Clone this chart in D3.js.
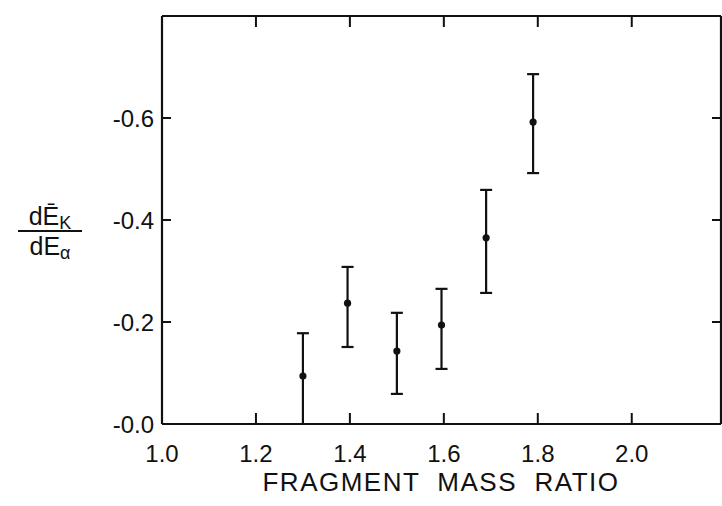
<!DOCTYPE html>
<html>
<head>
<meta charset="utf-8">
<script src="https://cdn.jsdelivr.net/npm/d3@7"></script>
<style>
  html, body { margin: 0; padding: 0; background: #fff; }
  svg { display: block; }
  text { font-family: "Liberation Sans", "DejaVu Sans", sans-serif; fill: #111; }
</style>
</head>
<body>
<svg id="chart" width="722" height="506"></svg>
<script>
// Fragment mass ratio vs. slope of mean kinetic energy with excitation energy
const massRatio = [1.30, 1.395, 1.50, 1.595, 1.69, 1.79];
const slope     = [0.094, 0.237, 0.143, 0.194, 0.365, 0.592];
const errUpper  = [0.178, 0.308, 0.218, 0.265, 0.459, 0.686];
const errLower  = [0.0, 0.151, 0.059, 0.108, 0.257, 0.492];

const xTicks = [1.0, 1.2, 1.4, 1.6, 1.8, 2.0];
const xTickLabels = ["1.0", "1.2", "1.4", "1.6", "1.8", "2.0"];
const yTicks = [0.0, 0.2, 0.4, 0.6];
const yTickLabels = ["-0.0", "-0.2", "-0.4", "-0.6"];

const svg = d3.select("#chart");
const ink = "#111";

const x = d3.scaleLinear().domain([1.0, 2.19]).range([162, 721]);
const y = d3.scaleLinear().domain([0, 0.8]).range([424, 16]);

// frame
const frame = svg.append("g").attr("stroke", ink).attr("stroke-width", 2.2).attr("fill", "none");
frame.append("line").attr("x1", x(1.0)).attr("x2", x(2.19)).attr("y1", y(0)).attr("y2", y(0));
frame.append("line").attr("x1", x(1.0)).attr("x2", x(2.19)).attr("y1", y(0.8)).attr("y2", y(0.8));
frame.append("line").attr("x1", x(1.0)).attr("x2", x(1.0)).attr("y1", y(0)).attr("y2", y(0.8));
frame.append("line").attr("x1", x(2.19)).attr("x2", x(2.19)).attr("y1", y(0)).attr("y2", y(0.8));

// ticks on all four sides, pointing inward
const tk = svg.append("g").attr("stroke", ink).attr("stroke-width", 2);
xTicks.slice(1).forEach(v => {
  tk.append("line").attr("x1", x(v)).attr("x2", x(v)).attr("y1", y(0)).attr("y2", y(0) - 11);
  tk.append("line").attr("x1", x(v)).attr("x2", x(v)).attr("y1", y(0.8)).attr("y2", y(0.8) + 11);
});
yTicks.slice(1).forEach(v => {
  tk.append("line").attr("x1", x(1.0)).attr("x2", x(1.0) + 9).attr("y1", y(v)).attr("y2", y(v));
  tk.append("line").attr("x1", x(2.19)).attr("x2", x(2.19) - 9).attr("y1", y(v)).attr("y2", y(v));
});

// tick labels
svg.append("g").selectAll("text").data(xTicks).join("text")
  .attr("x", d => x(d)).attr("y", 462)
  .attr("text-anchor", "middle").attr("font-size", 24)
  .text((d, i) => xTickLabels[i]);

svg.append("g").selectAll("text").data(yTicks).join("text")
  .attr("x", 154).attr("y", d => y(d)).attr("dy", "0.36em")
  .attr("text-anchor", "end").attr("font-size", 24)
  .text((d, i) => yTickLabels[i]);

// axis titles
svg.append("text").attr("x", 441).attr("y", 491)
  .attr("text-anchor", "middle").attr("font-size", 26)
  .attr("letter-spacing", 1.5).attr("xml:space", "preserve")
  .text("FRAGMENT  MASS  RATIO");

const yt = svg.append("g").attr("transform", "translate(50,231)");
const num = yt.append("text").attr("y", -6).attr("text-anchor", "middle").attr("font-size", 25);
num.append("tspan").text("dĒ");
num.append("tspan").attr("font-size", 18).attr("dy", 4).text("K");
yt.append("line").attr("x1", -32).attr("x2", 32).attr("y1", 0).attr("y2", 0)
  .attr("stroke", ink).attr("stroke-width", 2.2);
const den = yt.append("text").attr("y", 24).attr("text-anchor", "middle").attr("font-size", 25);
den.append("tspan").text("dE");
den.append("tspan").attr("font-size", 18).attr("dy", 4).text("α");

// error bars and points
const pts = massRatio.map((m, i) => ({ m, v: slope[i], hi: errUpper[i], lo: errLower[i] }));
const eb = svg.append("g").attr("stroke", ink).attr("stroke-width", 2.2);
pts.forEach(p => {
  eb.append("line").attr("x1", x(p.m)).attr("x2", x(p.m)).attr("y1", y(p.hi)).attr("y2", y(p.lo));
  eb.append("line").attr("x1", x(p.m) - 6).attr("x2", x(p.m) + 6).attr("y1", y(p.hi)).attr("y2", y(p.hi));
  if (p.lo > 0) {
    eb.append("line").attr("x1", x(p.m) - 6).attr("x2", x(p.m) + 6).attr("y1", y(p.lo)).attr("y2", y(p.lo));
  }
});
svg.append("g").selectAll("circle").data(pts).join("circle")
  .attr("cx", d => x(d.m)).attr("cy", d => y(d.v)).attr("r", 3.6).attr("fill", ink);
</script>
</body>
</html>
